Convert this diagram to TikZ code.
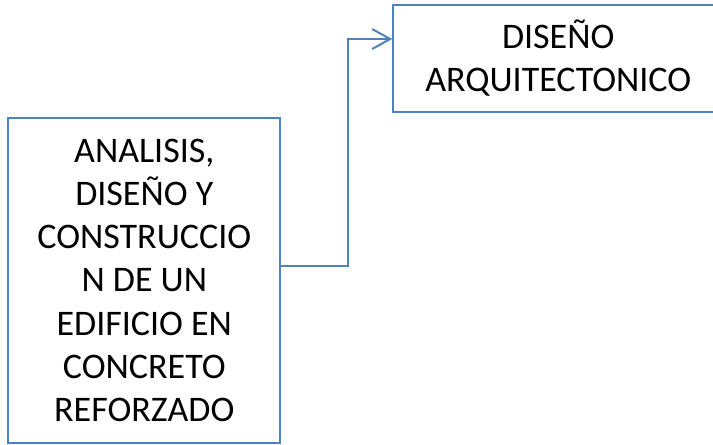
\documentclass[tikz,border=0pt]{standalone}
\usepackage{fontspec}
\setmainfont{Carlito}
\usetikzlibrary{arrows.meta}
\definecolor{wordblue}{HTML}{4F81BD}
\tikzset{
  box/.style={draw=wordblue, line width=1.5pt, inner sep=0pt, align=center,
    font=\fontsize{27}{32.4}\selectfont, text=black},
  conn/.style={draw=wordblue, line width=1.5pt,
    -{Straight Barb[length=13.5pt,width=15pt,line width=1.5pt]}}
}
\begin{document}
\begin{tikzpicture}[x=0.75pt,y=-0.75pt]
\useasboundingbox (0,0) rectangle (713,444);
\clip (0,0) rectangle (713,444);
\node[box, minimum width=247.5pt, minimum height=80pt] (rbox) at (558.2,58.3)
  {DISEÑO\\ARQUITECTONICO};
\node[box, minimum width=204pt, minimum height=243.2pt] (lbox) at (144.3,280.4)
  {ANALISIS,\\DISEÑO Y\\CONSTRUCCIO\\N DE UN\\EDIFICIO EN\\CONCRETO\\REFORZADO};
\coordinate (h) at (0,266);
\coordinate (turn) at (348.3,39);
\draw[conn] (lbox.east |- h) -| (turn) -- (rbox.west |- turn);
\end{tikzpicture}
\end{document}
